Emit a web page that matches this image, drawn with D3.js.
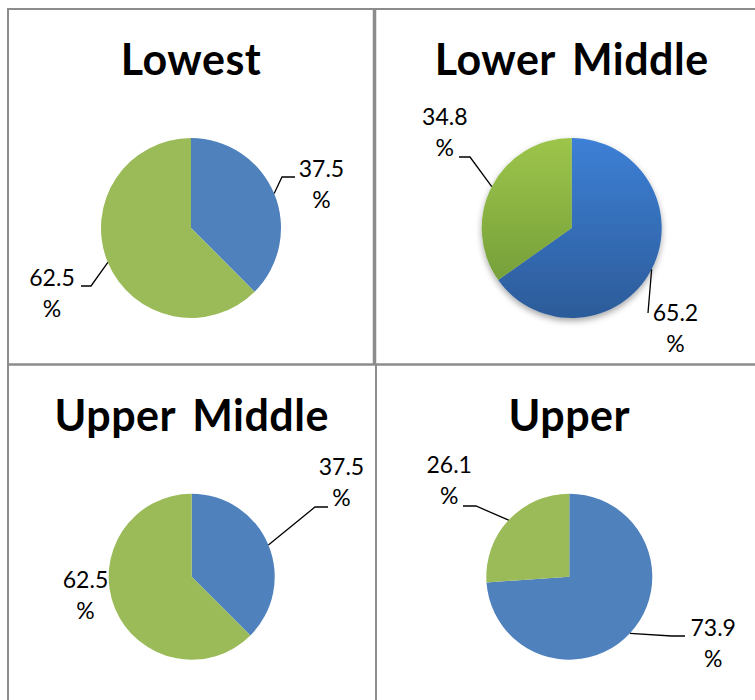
<!DOCTYPE html>
<html>
<head>
<meta charset="utf-8">
<script src="https://cdn.jsdelivr.net/npm/d3@7"></script>
<style>
    body { margin: 0; background: #fff; }
    svg { display: block; }
    .title { font-family: Lato, "Open Sans", sans-serif; font-weight: bold; font-size: 43px; letter-spacing: 0.5px; word-spacing: 6px; fill: #000; }
    .label { font-family: Lato, "Open Sans", sans-serif; font-size: 23px; fill: #000; }
    .leader { fill: none; stroke: #000; stroke-width: 1.3px; }
</style>
</head>
<body>
<div id="chart"></div>
<script>
// data
const titles = ['Lowest', 'Lower Middle', 'Upper Middle', 'Upper'];
const bluePct = [37.5, 65.2, 37.5, 73.9];
const greenPct = [62.5, 34.8, 62.5, 26.1];

// layout per panel: pie centre, radius, title baseline
const panels = [
    { cx: 191, cy: 228, r: 90, ty: 75, gradient: false },
    { cx: 571.7, cy: 228, r: 90, ty: 75, gradient: true },
    { cx: 191.7, cy: 576.7, r: 83, ty: 430.7, gradient: false },
    { cx: 569.3, cy: 576.7, r: 83, ty: 430.7, gradient: false }
];

// label placement relative to pie centre: [blue, green]
// pos = text centre / first baseline, leader = points after the arc point
const labelLayout = [
    [{ pos: [130.5, -51], leader: [[91, -51], [104, -51]] },
     { pos: [-139, 58], leader: [[-100, 58], [-110, 58]] }],
    [{ pos: [103.8, 93], leader: [[76.3, 85]] },
     { pos: [-126.9, -103], leader: [[-101.7, -71], [-112.7, -71]] }],
    [{ pos: [149.8, -101.7], leader: [[123.3, -69.7], [136.3, -69.7]] },
     { pos: [-106.2, 11.3], leader: null }],
    [{ pos: [143.9, 59], leader: [[102.4, 59.3], [115.7, 59.3]] },
     { pos: [-120.1, -103.7], leader: [[-93.3, -70.7], [-106.3, -70.7]] }]
];

const width = 755, height = 700;
const svg = d3.select('#chart').append('svg')
    .attr('width', width)
    .attr('height', height);

const defs = svg.append('defs');
const gradStops = {
    blueGrad: ['#3d80d6', '#2c5b99'],
    greenGrad: ['#9dc54b', '#76a03a']
};
Object.entries(gradStops).forEach(([id, c]) => {
    const g = defs.append('linearGradient')
        .attr('id', id)
        .attr('x1', 0).attr('y1', 0).attr('x2', 0).attr('y2', 1)
        .attr('gradientUnits', 'objectBoundingBox');
    g.append('stop').attr('offset', '0%').attr('stop-color', c[0]);
    g.append('stop').attr('offset', '100%').attr('stop-color', c[1]);
});
defs.append('filter')
    .attr('id', 'shadow')
    .attr('x', '-20%').attr('y', '-20%').attr('width', '140%').attr('height', '140%')
    .append('feDropShadow')
    .attr('dx', 0).attr('dy', 3).attr('stdDeviation', 3)
    .attr('flood-color', '#000').attr('flood-opacity', 0.35);

// cell borders
const border = svg.append('g')
    .attr('stroke', '#8c8c8c')
    .attr('fill', 'none');
border.append('line').attr('x1', 7).attr('x2', width).attr('y1', 9).attr('y2', 9).attr('stroke-width', 2);
border.append('line').attr('x1', 7).attr('x2', width).attr('y1', 364.5).attr('y2', 364.5).attr('stroke-width', 2.5);
border.append('line').attr('x1', 8).attr('x2', 8).attr('y1', 8).attr('y2', height).attr('stroke-width', 2);
border.append('line').attr('x1', 374.5).attr('x2', 374.5).attr('y1', 8).attr('y2', 364).attr('stroke-width', 3.5);
border.append('line').attr('x1', 376).attr('x2', 376).attr('y1', 364).attr('y2', height).attr('stroke-width', 2);

const pie = d3.pie().sort(null).value(d => d.value);
const color = d3.scaleOrdinal().domain(['blue', 'green']).range(['#4f81bd', '#9bbb59']);

panels.forEach((p, i) => {
    const g = svg.append('g').attr('transform', `translate(${p.cx},${p.cy})`);
    const data = [
        { key: 'blue', value: bluePct[i] },
        { key: 'green', value: greenPct[i] }
    ];
    const arcs = pie(data);
    const arc = d3.arc().innerRadius(0).outerRadius(p.r);

    const slices = g.append('g');
    if (p.gradient) slices.attr('filter', 'url(#shadow)');
    slices.selectAll('path')
        .data(arcs)
        .enter()
        .append('path')
        .attr('d', arc)
        .attr('fill', d => p.gradient ? `url(#${d.data.key}Grad)` : color(d.data.key));

    // title
    svg.append('text')
        .attr('class', 'title')
        .attr('x', p.cx)
        .attr('y', p.ty)
        .attr('text-anchor', 'middle')
        .text(titles[i]);

    // labels with leader lines
    arcs.forEach((a, j) => {
        const lay = labelLayout[i][j];
        const mid = (a.startAngle + a.endAngle) / 2;
        const start = [p.r * Math.sin(mid), -p.r * Math.cos(mid)];
        if (lay.leader) {
            g.append('path')
                .attr('class', 'leader')
                .attr('d', d3.line()([start, ...lay.leader]));
        }
        const t = g.append('text')
            .attr('class', 'label')
            .attr('text-anchor', 'middle')
            .attr('x', lay.pos[0])
            .attr('y', lay.pos[1]);
        t.append('tspan').attr('x', lay.pos[0]).text(d3.format('.1f')(a.data.value));
        t.append('tspan').attr('x', lay.pos[0]).attr('dy', 31).text('%');
    });
});
</script>
</body>
</html>
